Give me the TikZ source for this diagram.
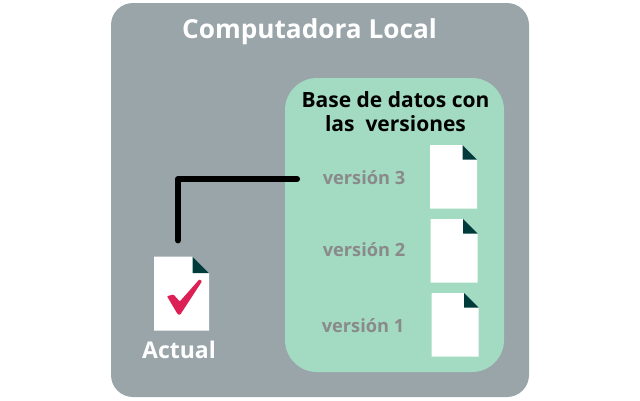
\documentclass[tikz,border=0pt]{standalone}
\usepackage{fontspec}
\setmainfont{Open Sans}
\usepackage{tikz}
\usetikzlibrary{arrows}

\definecolor{gris}{HTML}{9AA5AA}
\definecolor{verde}{HTML}{A2DAC2}
\definecolor{pliegue}{HTML}{003B3B}
\definecolor{griso}{HTML}{8A8A8A}
\definecolor{rojo}{HTML}{DC1F55}

\begin{document}
\begin{tikzpicture}[x=1bp,y=-1bp,semithick,node distance=74bp]
  \tikzset{hoja/.style={minimum width=47bp,minimum height=63.5bp,inner sep=0pt,
    path picture={
      \fill[white] (path picture bounding box.north west)
        -- ([xshift=-#1]path picture bounding box.north east)
        -- ([yshift=-#1]path picture bounding box.north east)
        -- (path picture bounding box.south east)
        -- (path picture bounding box.south west) -- cycle;
      \fill[pliegue] ([xshift=-#1]path picture bounding box.north east)
        -- ([xshift=-#1,yshift=-#1]path picture bounding box.north east)
        -- ([yshift=-#1]path picture bounding box.north east) -- cycle;
    }},hoja/.default=14.5bp}
  \tikzstyle{version}=[text=griso,font=\fontsize{18.2bp}{20bp}\selectfont\bfseries,inner sep=0pt]
  \tikzstyle{titulo}=[text=white,font=\fontsize{26.2bp}{30bp}\selectfont\bfseries,inner sep=0pt]
  \tikzstyle{conector}=[line width=6bp,line cap=round,line join=round]

  \useasboundingbox (0,0) rectangle (640,400);

  \fill[gris,rounded corners=22bp] (111,3) rectangle (529,397);
  \fill[verde,rounded corners=32bp] (285,78) rectangle (504,372);

  \node[titulo] (local) at (309.5,32) {Computadora Local};
  \node[font=\fontsize{21bp}{24bp}\selectfont\bfseries,align=center,inner sep=0pt]
    (base) at (395.5,111.5) {Base de datos con\\las\ \ versiones};

  \node[hoja] (hojaTres) at (453.5,176.8) {};
  \node[hoja] (hojaDos) [below of=hojaTres,xshift=0.7bp] {};
  \node[hoja] (hojaUno) [below of=hojaDos,xshift=1bp] {};

  \node[version] (vTres) at (364,178) {versión 3};
  \node[version] (vDos) at (364,250) {versión 2};
  \node[version] (vUno) at (363,326) {versión 1};

  \node[hoja=16.5bp,minimum width=55bp,minimum height=74bp] (actual) at (181.5,293.7) {};
  \node[titulo,font=\fontsize{23bp}{24bp}\selectfont\bfseries] (actualTxt) at (179,350) {Actual};
  \fill[rojo,rounded corners=0.8bp] (167,296.2) -- (173.5,294.5) -- (179.8,301.5) -- (199.5,279.2)
    -- (202,281.3) -- (180,315) -- (177.5,314) -- cycle;

  \draw[conector,shorten <=25.5bp,shorten >=16bp] ([yshift=-1bp]vTres.west) -| ([xshift=-3.5bp]actual.north);
\end{tikzpicture}
\end{document}
